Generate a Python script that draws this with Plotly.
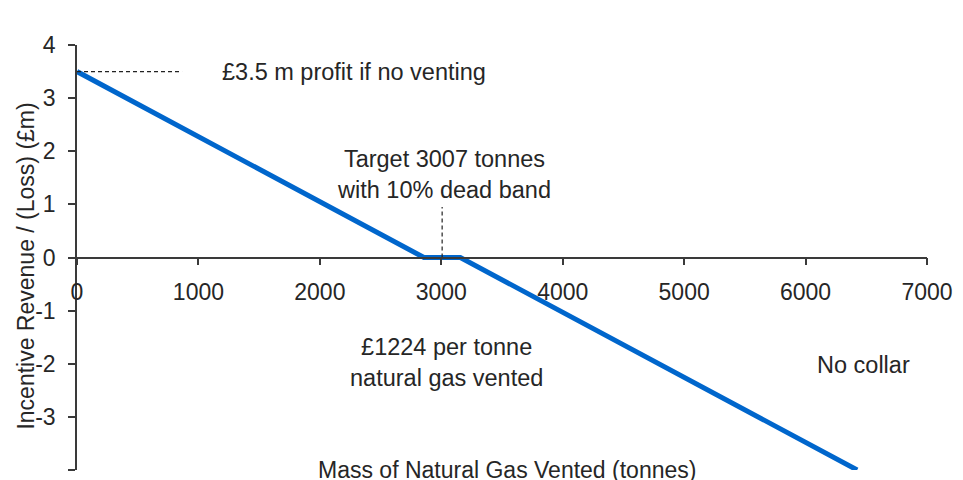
import plotly.graph_objects as go

# Data
mass_tonnes = [0, 2857, 3157, 6425]
revenue_gbp_m = [3.5, 0, 0, -4]

target_tonnes = 3007
target_marker_top = 0.95
no_venting_profit = 3.5
no_venting_line_end = 865

x_ticks = [0, 1000, 2000, 3000, 4000, 5000, 6000, 7000]
y_ticks = [-4, -3, -2, -1, 0, 1, 2, 3, 4]

FONT = "Liberation Sans, Arial, sans-serif"
TXT = "#262626"
AX = "#3a3a3a"

fig = go.Figure()

fig.add_trace(go.Scatter(
    x=mass_tonnes, y=revenue_gbp_m, mode="lines",
    line=dict(color="#0066CC", width=5), showlegend=False, hoverinfo="skip"))

# dashed reference lines
fig.add_trace(go.Scatter(
    x=[0, no_venting_line_end], y=[no_venting_profit, no_venting_profit], mode="lines",
    line=dict(color="#222222", width=1.2, dash="4px,3px"), showlegend=False, hoverinfo="skip"))
fig.add_trace(go.Scatter(
    x=[target_tonnes, target_tonnes], y=[0, target_marker_top], mode="lines",
    line=dict(color="#222222", width=1.2, dash="4px,3px"), showlegend=False, hoverinfo="skip"))

# page has an 8px body margin: figure is sized/offset to compensate
fig.update_layout(
    width=955, height=472,
    margin=dict(l=69, r=27, t=37, b=10),
    paper_bgcolor="white", plot_bgcolor="white",
    font=dict(family=FONT, size=23, color=TXT),
    xaxis=dict(
        range=[0, 7000], tickvals=x_ticks, ticktext=[str(v) for v in x_ticks],
        anchor="free", position=0.5,
        showline=True, linecolor=AX, linewidth=1.5,
        ticks="outside", ticklen=7, tickcolor=AX, tickwidth=1.5,
        showgrid=False, zeroline=False,
        ticklabelstandoff=7,
        tickfont=dict(family=FONT, size=23, color=TXT)),
    yaxis=dict(
        range=[-4, 4], tickvals=y_ticks, ticktext=[str(v) for v in y_ticks],
        showline=True, linecolor=AX, linewidth=1.5,
        ticks="outside", ticklen=7, tickcolor=AX, tickwidth=1.5,
        showgrid=False, zeroline=False,
        ticklabelstandoff=8,
        tickfont=dict(family=FONT, size=23, color=TXT)),
)

ann_font = dict(family=FONT, size=23.5, color=TXT)
annotations = [
    dict(x=1179, y=3.5, xref="x", yref="y", text="£3.5 m profit if no venting",
         xanchor="left", yanchor="middle", showarrow=False),
    dict(x=3023, y=1.57, xref="x", yref="y", text="Target 3007 tonnes<br>with 10% dead band",
         xanchor="center", yanchor="middle", showarrow=False),
    dict(x=3040, y=-1.97, xref="x", yref="y", text="£1224 per tonne<br>natural gas vented",
         xanchor="center", yanchor="middle", showarrow=False),
    dict(x=6475, y=-2.02, xref="x", yref="y", text="No collar",
         xanchor="center", yanchor="middle", showarrow=False),
    dict(x=3542, y=-4.0, xref="x", yref="y", text="Mass of Natural Gas Vented (tonnes)",
         xanchor="center", yanchor="middle", showarrow=False, font=dict(family=FONT, size=23, color=TXT)),
    dict(x=-0.0605, y=0.48, xref="paper", yref="paper", text="Incentive Revenue / (Loss) (£m)",
         textangle=-90, xanchor="center", yanchor="middle", showarrow=False,
         font=dict(family=FONT, size=23, color=TXT)),
]
for a in annotations:
    a.setdefault("font", ann_font)
fig.update_layout(annotations=annotations)

fig.write_html("out.html")
